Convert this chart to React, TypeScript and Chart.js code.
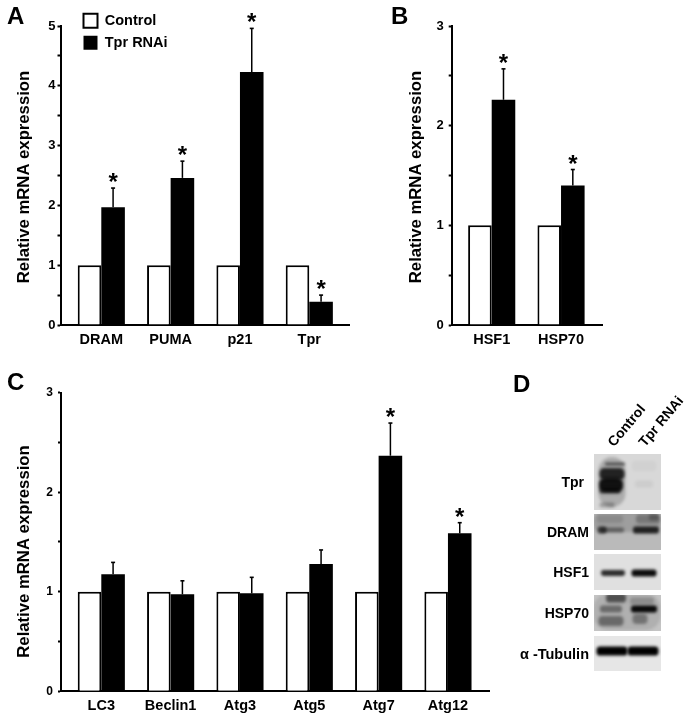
import React, { useEffect, useRef } from "react";
import { Chart, registerables } from "chart.js";

Chart.register(...registerables);

const FONT = "'Liberation Sans', Arial, sans-serif";
const Y_TITLE = "Relative mRNA expression";
const SERIES_NAMES = ["Control", "Tpr RNAi"];

// Panel A
const aCategories = ["DRAM", "PUMA", "p21", "Tpr"];
const aControl = [1, 1, 1, 1];
const aTreated = [1.97, 2.46, 4.23, 0.39];
const aErrorTop = [2.29, 2.74, 4.96, 0.5];
const aStars = [true, true, true, true];

// Panel B
const bCategories = ["HSF1", "HSP70"];
const bControl = [1, 1];
const bTreated = [2.26, 1.4];
const bErrorTop = [2.57, 1.56];
const bStars = [true, true];

// Panel C
const cCategories = ["LC3", "Beclin1", "Atg3", "Atg5", "Atg7", "Atg12"];
const cControl = [1, 1, 1, 1, 1, 1];
const cTreated = [1.175, 0.974, 0.984, 1.28, 2.367, 1.587];
const cErrorTop = [1.295, 1.11, 1.145, 1.42, 2.695, 1.694];
const cStars = [false, false, false, false, true, true];

// Panel D: blot strips, values in blot units (x 0..67, y 0..217)
const blotNames = ["Tpr", "DRAM", "HSF1", "HSP70", "\u03b1 -Tubulin"];
const blotStripTop = [0, 60, 100, 141, 182];
const blotStripBottom = [56, 96, 136, 177, 217];
const blotStripGrey = [216, 186, 224, 196, 230];
const blotLanes = ["Control", "Tpr RNAi"];
// [strip, x, y, width, height, darkness]
const blotBands = [
  [0, 18, 28, 27, 50, 0.2],
  [0, 21, 10, 20, 3, 0.55],
  [0, 18, 20, 25, 12, 0.8],
  [0, 17, 31, 24, 14, 0.9],
  [0, 16, 37, 21, 5, 0.6],
  [0, 13, 51, 15, 5, 0.25],
  [0, 50, 30, 18, 7, 0.05],
  [0, 50, 12, 24, 10, 0.03],
  [1, 33, 68, 67, 20, 0.15],
  [1, 8, 76, 9, 7, 0.6],
  [1, 18, 76, 24, 5, 0.4],
  [1, 52, 76, 26, 7, 0.8],
  [1, 16, 65, 26, 8, 0.12],
  [1, 54, 65, 24, 9, 0.25],
  [1, 60, 63, 10, 7, 0.25],
  [2, 19, 119, 24, 6, 0.8],
  [2, 50, 119, 25, 7, 0.95],
  [3, 33, 158, 67, 36, 0.1],
  [3, 22, 144, 20, 9, 0.55],
  [3, 17, 155, 22, 7, 0.4],
  [3, 50, 155, 26, 7, 0.95],
  [3, 17, 167, 25, 10, 0.4],
  [3, 46, 165, 15, 10, 0.35],
  [3, 48, 147, 24, 7, 0.2],
  [4, 18, 197, 31, 9, 1],
  [4, 49, 197, 31, 9, 1],
];

type PanelSpec = {
  letter: string;
  letterX: number;
  letterY: number;
  box: { left: number; top: number; width: number; height: number };
  plot: { left: number; right: number; top: number; bottom: number };
  firstCenter: number;
  spacing: number;
  yMax: number;
  categories: string[];
  control: number[];
  treated: number[];
  errorTop: number[];
  stars: boolean[];
  titleX: number;
  titleY: number;
  tickFont: number;
  tickPad: number;
  xPad: number;
  legend?: { left: number; top: number };
};

const panels: PanelSpec[] = [
  {
    letter: "A", letterX: 7, letterY: 24,
    box: { left: 0, top: 0, width: 360, height: 355 },
    plot: { left: 60.5, right: 349, top: 26, bottom: 325 },
    firstCenter: 101.3, spacing: 69.33, yMax: 5,
    categories: aCategories, control: aControl, treated: aTreated, errorTop: aErrorTop, stars: aStars,
    titleX: 24, titleY: 177, tickFont: 13, tickPad: 2, xPad: 6,
    legend: { left: 76, top: 6 },
  },
  {
    letter: "B", letterX: 391, letterY: 23.5,
    box: { left: 380, top: 0, width: 240, height: 355 },
    plot: { left: 451.7, right: 602, top: 26, bottom: 325 },
    firstCenter: 491.7, spacing: 69.33, yMax: 3,
    categories: bCategories, control: bControl, treated: bTreated, errorTop: bErrorTop, stars: bStars,
    titleX: 416, titleY: 177, tickFont: 13, tickPad: 5, xPad: 6,
  },
  {
    letter: "C", letterX: 7, letterY: 390,
    box: { left: 0, top: 370, width: 510, height: 348 },
    plot: { left: 61, right: 489, top: 392.7, bottom: 691.3 },
    firstCenter: 101.3, spacing: 69.33, yMax: 3,
    categories: cCategories, control: cControl, treated: cTreated, errorTop: cErrorTop, stars: cStars,
    titleX: 24, titleY: 551.5, tickFont: 12, tickPad: 5, xPad: 6,
  },
];

function barConfig(p: PanelSpec) {
  const { box, plot } = p;
  const overlay = {
    id: "overlay",
    afterLayout(chart: any) {
      if (p.legend && chart.legend) {
        chart.legend.left = p.legend.left - box.left;
        chart.legend.top = p.legend.top - box.top;
      }
    },
    afterDatasetsDraw(chart: any) {
      const ctx = chart.ctx;
      const y = chart.scales.y;
      const meta = chart.getDatasetMeta(1);
      ctx.save();
      ctx.strokeStyle = "#000";
      ctx.fillStyle = "#000";
      meta.data.forEach((bar: any, i: number) => {
        const topPx = y.getPixelForValue(p.errorTop[i]);
        const basePx = y.getPixelForValue(p.treated[i]);
        ctx.lineWidth = 1.5;
        ctx.beginPath();
        ctx.moveTo(bar.x, basePx);
        ctx.lineTo(bar.x, topPx);
        ctx.stroke();
        ctx.lineWidth = 1.6;
        ctx.beginPath();
        ctx.moveTo(bar.x - 2, topPx);
        ctx.lineTo(bar.x + 2, topPx);
        ctx.stroke();
        if (p.stars[i]) {
          ctx.font = `bold 24px ${FONT}`;
          ctx.textAlign = "center";
          ctx.textBaseline = "alphabetic";
          ctx.fillText("*", bar.x, topPx + 2);
        }
      });
      ctx.restore();
    },
    afterDraw(chart: any) {
      const ctx = chart.ctx;
      ctx.save();
      ctx.fillStyle = "#000";
      ctx.textBaseline = "alphabetic";
      ctx.textAlign = "left";
      ctx.font = `bold 24px ${FONT}`;
      ctx.fillText(p.letter, p.letterX - box.left, p.letterY - box.top);
      ctx.translate(p.titleX - box.left, p.titleY - box.top);
      ctx.rotate(-Math.PI / 2);
      ctx.font = `bold 16.7px ${FONT}`;
      ctx.textAlign = "center";
      ctx.textBaseline = "middle";
      ctx.fillText(Y_TITLE, 0, 0);
      ctx.restore();
    },
  };

  const points = (vals: number[]) => vals.map((v, i) => ({ x: i, y: v }));

  return {
    type: "bar",
    data: {
      datasets: [
        {
          label: SERIES_NAMES[0],
          data: points(p.control),
          backgroundColor: "#fff",
          borderColor: "#000",
          borderWidth: 2,
          borderSkipped: "bottom",
        },
        {
          label: SERIES_NAMES[1],
          data: points(p.treated),
          backgroundColor: "#000",
          borderColor: "#000",
          borderWidth: 0,
        },
      ],
    },
    options: {
      responsive: false,
      animation: false,
      events: [],
      barPercentage: 1,
      categoryPercentage: 0.68,
      layout: {
        autoPadding: false,
        padding: {
          top: plot.top - box.top,
          left: 0,
          right: box.left + box.width - plot.right,
          bottom: 0,
        },
      },
      scales: {
        x: {
          type: "linear",
          offset: false,
          min: (plot.left - p.firstCenter) / p.spacing,
          max: (plot.right - p.firstCenter) / p.spacing,
          afterBuildTicks(scale: any) {
            scale.ticks = p.categories.map((_, i) => ({ value: i }));
          },
          afterFit(scale: any) {
            scale.height = box.top + box.height - plot.bottom;
          },
          grid: { display: true, drawOnChartArea: false, drawTicks: false },
          border: { color: "#000", width: 2 },
          ticks: {
            autoSkip: false,
            maxRotation: 0,
            padding: p.xPad,
            color: "#000",
            font: { family: FONT, weight: "bold", size: 14.5 },
            callback: (v: number) => p.categories[v] ?? "",
          },
        },
        y: {
          type: "linear",
          min: 0,
          max: p.yMax,
          afterFit(scale: any) {
            scale.width = plot.left - box.left;
          },
          grid: { drawOnChartArea: false, drawTicks: true, tickLength: 3, tickWidth: 2, tickColor: "#000" },
          border: { color: "#000", width: 2 },
          ticks: {
            stepSize: 0.5,
            autoSkip: false,
            padding: p.tickPad,
            color: "#000",
            font: { family: FONT, weight: "bold", size: p.tickFont },
            callback: (v: number) => (Number.isInteger(v) ? String(v) : ""),
          },
        },
      },
      plugins: {
        tooltip: { enabled: false },
        title: { display: false },
        legend: p.legend
          ? {
              display: true,
              position: "chartArea",
              align: "start",
              labels: {
                boxWidth: 14,
                boxHeight: 14,
                padding: 7.5,
                color: "#000",
                font: { family: FONT, weight: "bold", size: 14.5 },
              },
            }
          : { display: false },
      },
    },
    plugins: [overlay],
  };
}

const blotBox = { left: 510, top: 370, width: 175, height: 310 };
const blotPlot = { left: 594, right: 661, top: 454, bottom: 671 };

function blotConfig() {
  const painter = {
    id: "blot",
    beforeDatasetsDraw(chart: any) {
      const { ctx, scales } = chart;
      const X = (v: number) => scales.x.getPixelForValue(v);
      const Y = (v: number) => scales.y.getPixelForValue(v);
      blotNames.forEach((name, s) => {
        const x0 = X(0), x1 = X(67), y0 = Y(blotStripTop[s]), y1 = Y(blotStripBottom[s]);
        const g = blotStripGrey[s];
        ctx.save();
        ctx.beginPath();
        ctx.rect(x0, y0, x1 - x0, y1 - y0);
        ctx.clip();
        ctx.fillStyle = `rgb(${g},${g},${g})`;
        ctx.fillRect(x0, y0, x1 - x0, y1 - y0);
        ctx.filter = "blur(1.8px)";
        blotBands
          .filter((b) => b[0] === s)
          .forEach((b) => {
            const w = X(b[3]) - X(0);
            const h = Y(b[4]) - Y(0);
            ctx.fillStyle = `rgba(0,0,0,${b[5]})`;
            ctx.beginPath();
            ctx.roundRect(X(b[1]) - w / 2, Y(b[2]) - h / 2, w, h, h / 2.5);
            ctx.fill();
          });
        ctx.restore();

        ctx.save();
        ctx.fillStyle = "#000";
        ctx.font = `bold ${s === 4 ? 14.5 : 14}px ${FONT}`;
        ctx.textAlign = "right";
        ctx.textBaseline = "middle";
        ctx.fillText(name, x0 - (s === 0 ? 10 : 5), (y0 + y1) / 2 + 1);
        ctx.restore();
      });
    },
    afterDraw(chart: any) {
      const { ctx, scales } = chart;
      ctx.save();
      ctx.fillStyle = "#000";
      ctx.font = `bold 24px ${FONT}`;
      ctx.textBaseline = "alphabetic";
      ctx.fillText("D", 513 - blotBox.left, 392 - blotBox.top);
      ctx.font = `bold 14px ${FONT}`;
      ctx.textBaseline = "middle";
      blotLanes.forEach((lane, i) => {
        ctx.save();
        ctx.translate(scales.x.getPixelForValue(i === 0 ? 17 : 48), scales.y.getPixelForValue(-9));
        ctx.rotate((-50 * Math.PI) / 180);
        ctx.fillText(lane, 0, 0);
        ctx.restore();
      });
      ctx.restore();
    },
  };
  return {
    type: "scatter",
    data: {
      datasets: [
        {
          label: "Blot bands",
          data: blotBands.map((b) => ({ x: b[1], y: b[2] })),
          pointRadius: 0,
        },
      ],
    },
    options: {
      responsive: false,
      animation: false,
      events: [],
      layout: {
        autoPadding: false,
        padding: {
          left: blotPlot.left - blotBox.left,
          right: blotBox.left + blotBox.width - blotPlot.right,
          top: blotPlot.top - blotBox.top,
          bottom: blotBox.top + blotBox.height - blotPlot.bottom,
        },
      },
      scales: {
        x: { type: "linear", min: 0, max: 67, display: false },
        y: { type: "linear", min: 0, max: 217, reverse: true, display: false },
      },
      plugins: { legend: { display: false }, tooltip: { enabled: false } },
    },
    plugins: [painter],
  };
}

function ChartCanvas({ box, make }: { box: PanelSpec["box"]; make: () => any }) {
  const ref = useRef<HTMLCanvasElement | null>(null);
  useEffect(() => {
    const chart = new Chart(ref.current as HTMLCanvasElement, make());
    return () => chart.destroy();
  }, []);
  return (
    <canvas
      ref={ref}
      width={box.width}
      height={box.height}
      style={{ position: "absolute", left: box.left, top: box.top, width: box.width, height: box.height, display: "block" }}
    />
  );
}

export default function App() {
  return (
    <div style={{ position: "absolute", left: 0, top: 0, width: 685, height: 718, background: "#fff", overflow: "hidden" }}>
      {panels.map((p) => (
        <ChartCanvas key={p.letter} box={p.box} make={() => barConfig(p)} />
      ))}
      <ChartCanvas box={blotBox} make={blotConfig} />
    </div>
  );
}
